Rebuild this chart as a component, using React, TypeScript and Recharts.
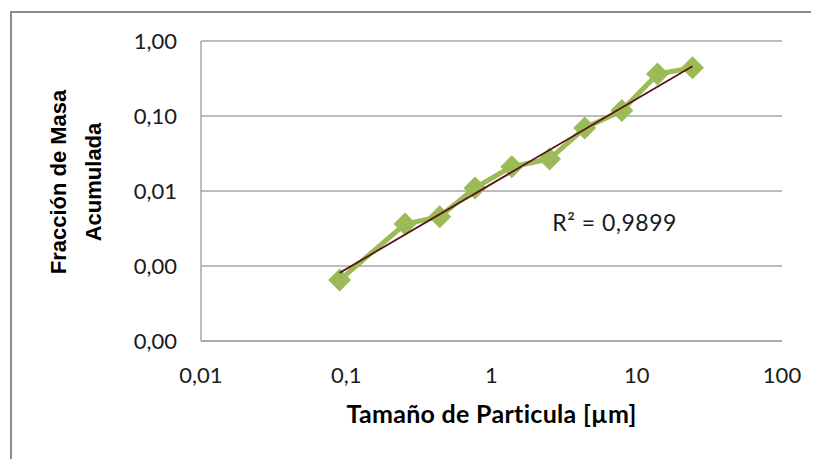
import React from "react";
import {
  ScatterChart,
  Scatter,
  XAxis,
  YAxis,
  CartesianGrid,
  ReferenceDot,
} from "recharts";

// particle size (µm) and cumulative mass fraction
const sizes = [0.09, 0.254, 0.44, 0.77, 1.38, 2.51, 4.38, 7.89, 13.9, 24.2];
const fractions = [0.00065, 0.00363, 0.00454, 0.011, 0.0211, 0.0267, 0.069, 0.118, 0.363, 0.44];

// power trendline end points
const trendSizes = [0.09, 24.2];
const trendFractions = [0.00081, 0.46];

const xTicks = [0.01, 0.1, 1, 10, 100];
const yTicks = [0.0001, 0.001, 0.01, 0.1, 1];
const r2Text = "R² = 0,9899";

const points = sizes.map((s, i) => ({ x: s, y: fractions[i] }));
const trend = trendSizes.map((s, i) => ({ x: s, y: trendFractions[i] }));

const GREEN = "#9bbb59";
const GRID = "#a6a6a6";

const Diamond = (props: any) => {
  const { cx, cy } = props;
  if (cx == null || cy == null) return null;
  const h = 11.5;
  return (
    <polygon
      points={`${cx},${cy - h} ${cx + h},${cy} ${cx},${cy + h} ${cx - h},${cy}`}
      fill={GREEN}
    />
  );
};

const NoDot = () => null;

const fmtX = (v: number) => String(v).replace(".", ",");
const fmtY = (v: number) => v.toFixed(2).replace(".", ",");

const tickStyle = { fontFamily: "Lato", fontSize: 22, fill: "#1a1a1a" };

const YTitle = () => (
  <g>
    <text
      x={58}
      y={174}
      transform="rotate(-90, 58, 174)"
      textAnchor="middle"
      fontFamily="Liberation Sans"
      fontWeight="bold"
      fontSize={22}
      fill="#000"
    >
      Fracción de Masa
    </text>
    <text
      x={92.5}
      y={174}
      transform="rotate(-90, 92.5, 174)"
      textAnchor="middle"
      fontFamily="Liberation Sans"
      fontWeight="bold"
      fontSize={22}
      fill="#000"
    >
      Acumulada
    </text>
  </g>
);

const XTitle = (props: any) => {
  const vb = props.viewBox || {};
  return (
    <text
      x={vb.x + vb.width / 2}
      y={vb.y + 82}
      textAnchor="middle"
      fontFamily="Lato"
      fontWeight="bold"
      fontSize={25}
      letterSpacing={0.3}
      fill="#000"
    >
      Tamaño de Particula [µm]
    </text>
  );
};

const R2Label = (props: any) => {
  const vb = props.viewBox || {};
  return (
    <text x={vb.x} y={vb.y} fontFamily="Lato" fontSize={23} letterSpacing={0.5} fill="#1a1a1a">
      {r2Text}
    </text>
  );
};

export default function App() {
  return (
    <div style={{ position: "relative", width: 811, height: 451, overflow: "hidden" }}>
      <div
        style={{
          position: "absolute",
          left: 2,
          top: 3,
          width: 820,
          height: 460,
          borderTop: "2px solid #8c8c8c",
          borderLeft: "2px solid #8c8c8c",
        }}
      />
      <ScatterChart
        width={811}
        height={451}
        margin={{ top: 33, right: 37, bottom: 0, left: 0 }}
        style={{ position: "absolute", left: 0, top: 0 }}
      >
        <CartesianGrid vertical={false} stroke={GRID} strokeWidth={1.5} />
        <XAxis
          type="number"
          dataKey="x"
          scale="log"
          domain={[0.01, 100]}
          ticks={xTicks}
          tickFormatter={fmtX}
          allowDataOverflow
          height={118}
          tickLine={false}
          tickSize={0}
          tickMargin={26}
          axisLine={{ stroke: GRID, strokeWidth: 1.5 }}
          tick={tickStyle}
          label={<XTitle />}
        />
        <YAxis
          type="number"
          dataKey="y"
          scale="log"
          domain={[0.0001, 1]}
          ticks={yTicks}
          tickFormatter={fmtY}
          allowDataOverflow
          width={193}
          tickLine={false}
          tickSize={0}
          tickMargin={24}
          axisLine={{ stroke: GRID, strokeWidth: 1.5 }}
          tick={tickStyle}
          label={<YTitle />}
        />
        <Scatter
          data={points}
          fill={GREEN}
          line={{ stroke: GREEN, strokeWidth: 5 }}
          shape={<Diamond />}
          isAnimationActive={false}
        />
        <Scatter
          data={trend}
          line={{ stroke: "#5c1414", strokeWidth: 1.8 }}
          shape={<NoDot />}
          isAnimationActive={false}
        />
        <ReferenceDot
          x={2.62}
          y={0.00292}
          r={0}
          ifOverflow="visible"
          label={<R2Label />}
        />
      </ScatterChart>
    </div>
  );
}
